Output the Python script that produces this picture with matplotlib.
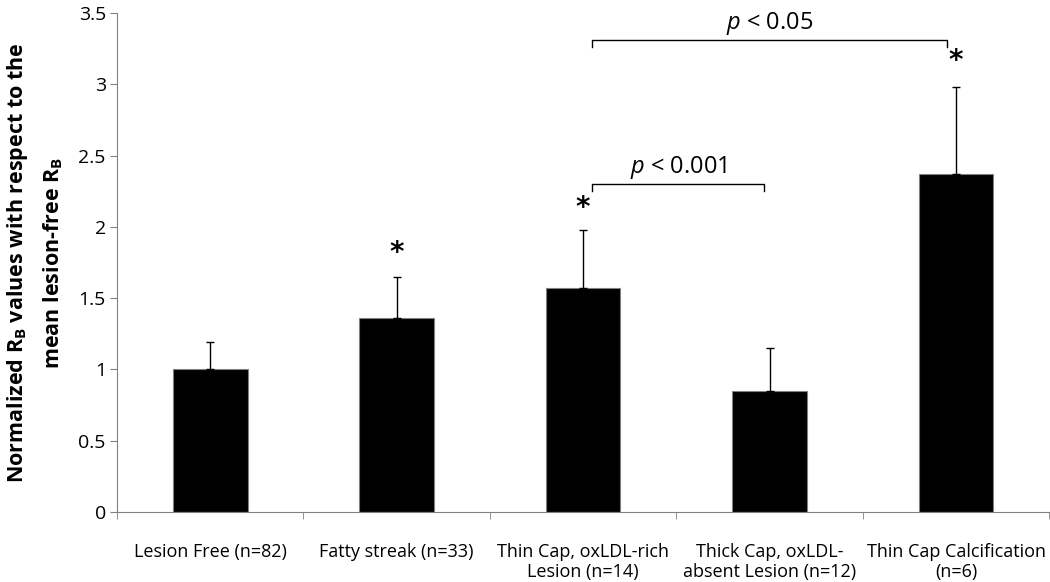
import numpy as np
import matplotlib.pyplot as plt

plt.rcParams['font.family'] = ['Open Sans', 'DejaVu Sans']
plt.rcParams['mathtext.fontset'] = 'custom'
plt.rcParams['mathtext.rm'] = 'Open Sans'
plt.rcParams['mathtext.it'] = 'Open Sans:italic'
plt.rcParams['mathtext.bf'] = 'Open Sans:bold'

categories = ['Lesion Free (n=82)', 'Fatty streak (n=33)', 'Thin Cap, oxLDL-rich\nLesion (n=14)',
              'Thick Cap, oxLDL-\nabsent Lesion (n=12)', 'Thin Cap Calcification\n(n=6)']
means = [1.00, 1.36, 1.57, 0.85, 2.37]
errors = [0.19, 0.29, 0.41, 0.30, 0.61]
star_y = [None, 1.82, 2.13, None, 3.16]

# significance brackets: (left x, right x, height, label)
brackets = [(2.05, 2.97, 2.30, '$p$ < 0.001'),
            (2.05, 3.95, 3.31, '$p$ < 0.05')]

fig = plt.figure(figsize=(10.5, 5.82), dpi=100)
ax = fig.add_axes([0.1114, 0.1203, 0.888, 0.8574])

x = np.arange(len(categories))
ax.bar(x, means, width=0.4, color='black', edgecolor='#808080', linewidth=0.8, zorder=2)
ax.errorbar(x, means, yerr=[np.zeros(len(means)), errors], fmt='none', ecolor='black',
            elinewidth=1, capsize=3, capthick=1, zorder=3)

for xi, sy in zip(x, star_y):
    if sy is not None:
        ax.text(xi, sy, '*', ha='center', va='center', fontsize=20, fontweight='bold',
                family='DejaVu Sans')

for x0, x1, h, lab in brackets:
    ax.plot([x0, x0, x1, x1], [h - 0.05, h, h, h - 0.05], color='black', lw=1)
    ax.text((x0 + x1) / 2, h + 0.02, lab, ha='center', va='bottom', fontsize=17)

ax.set_xlim(-0.5, 4.5)
ax.set_ylim(0, 3.5)
ax.set_yticks(np.arange(0, 3.51, 0.5))
ax.set_yticklabels(['0', '0.5', '1', '1.5', '2', '2.5', '3', '3.5'])
ax.set_xticks(x)
ax.set_xticklabels(categories, linespacing=1.2)
ax.set_xticks(np.arange(-0.5, 4.6, 1), minor=True)
ax.tick_params(axis='x', which='major', length=0, pad=22, labelsize=13)
ax.tick_params(axis='x', which='minor', length=5, color='#808080')
ax.tick_params(axis='y', length=5, color='#808080', labelsize=14, pad=3)

for s in ['top', 'right']:
    ax.spines[s].set_visible(False)
for s in ['left', 'bottom']:
    ax.spines[s].set_color('#808080')

ax.set_ylabel('Normalized R$_{\\mathbf{B}}$ values with respect to the\nmean lesion-free R$_{\\mathbf{B}}$',
              fontsize=15.5, fontweight='bold', labelpad=10, linespacing=1.6)

fig.savefig('out.png', dpi=100)
